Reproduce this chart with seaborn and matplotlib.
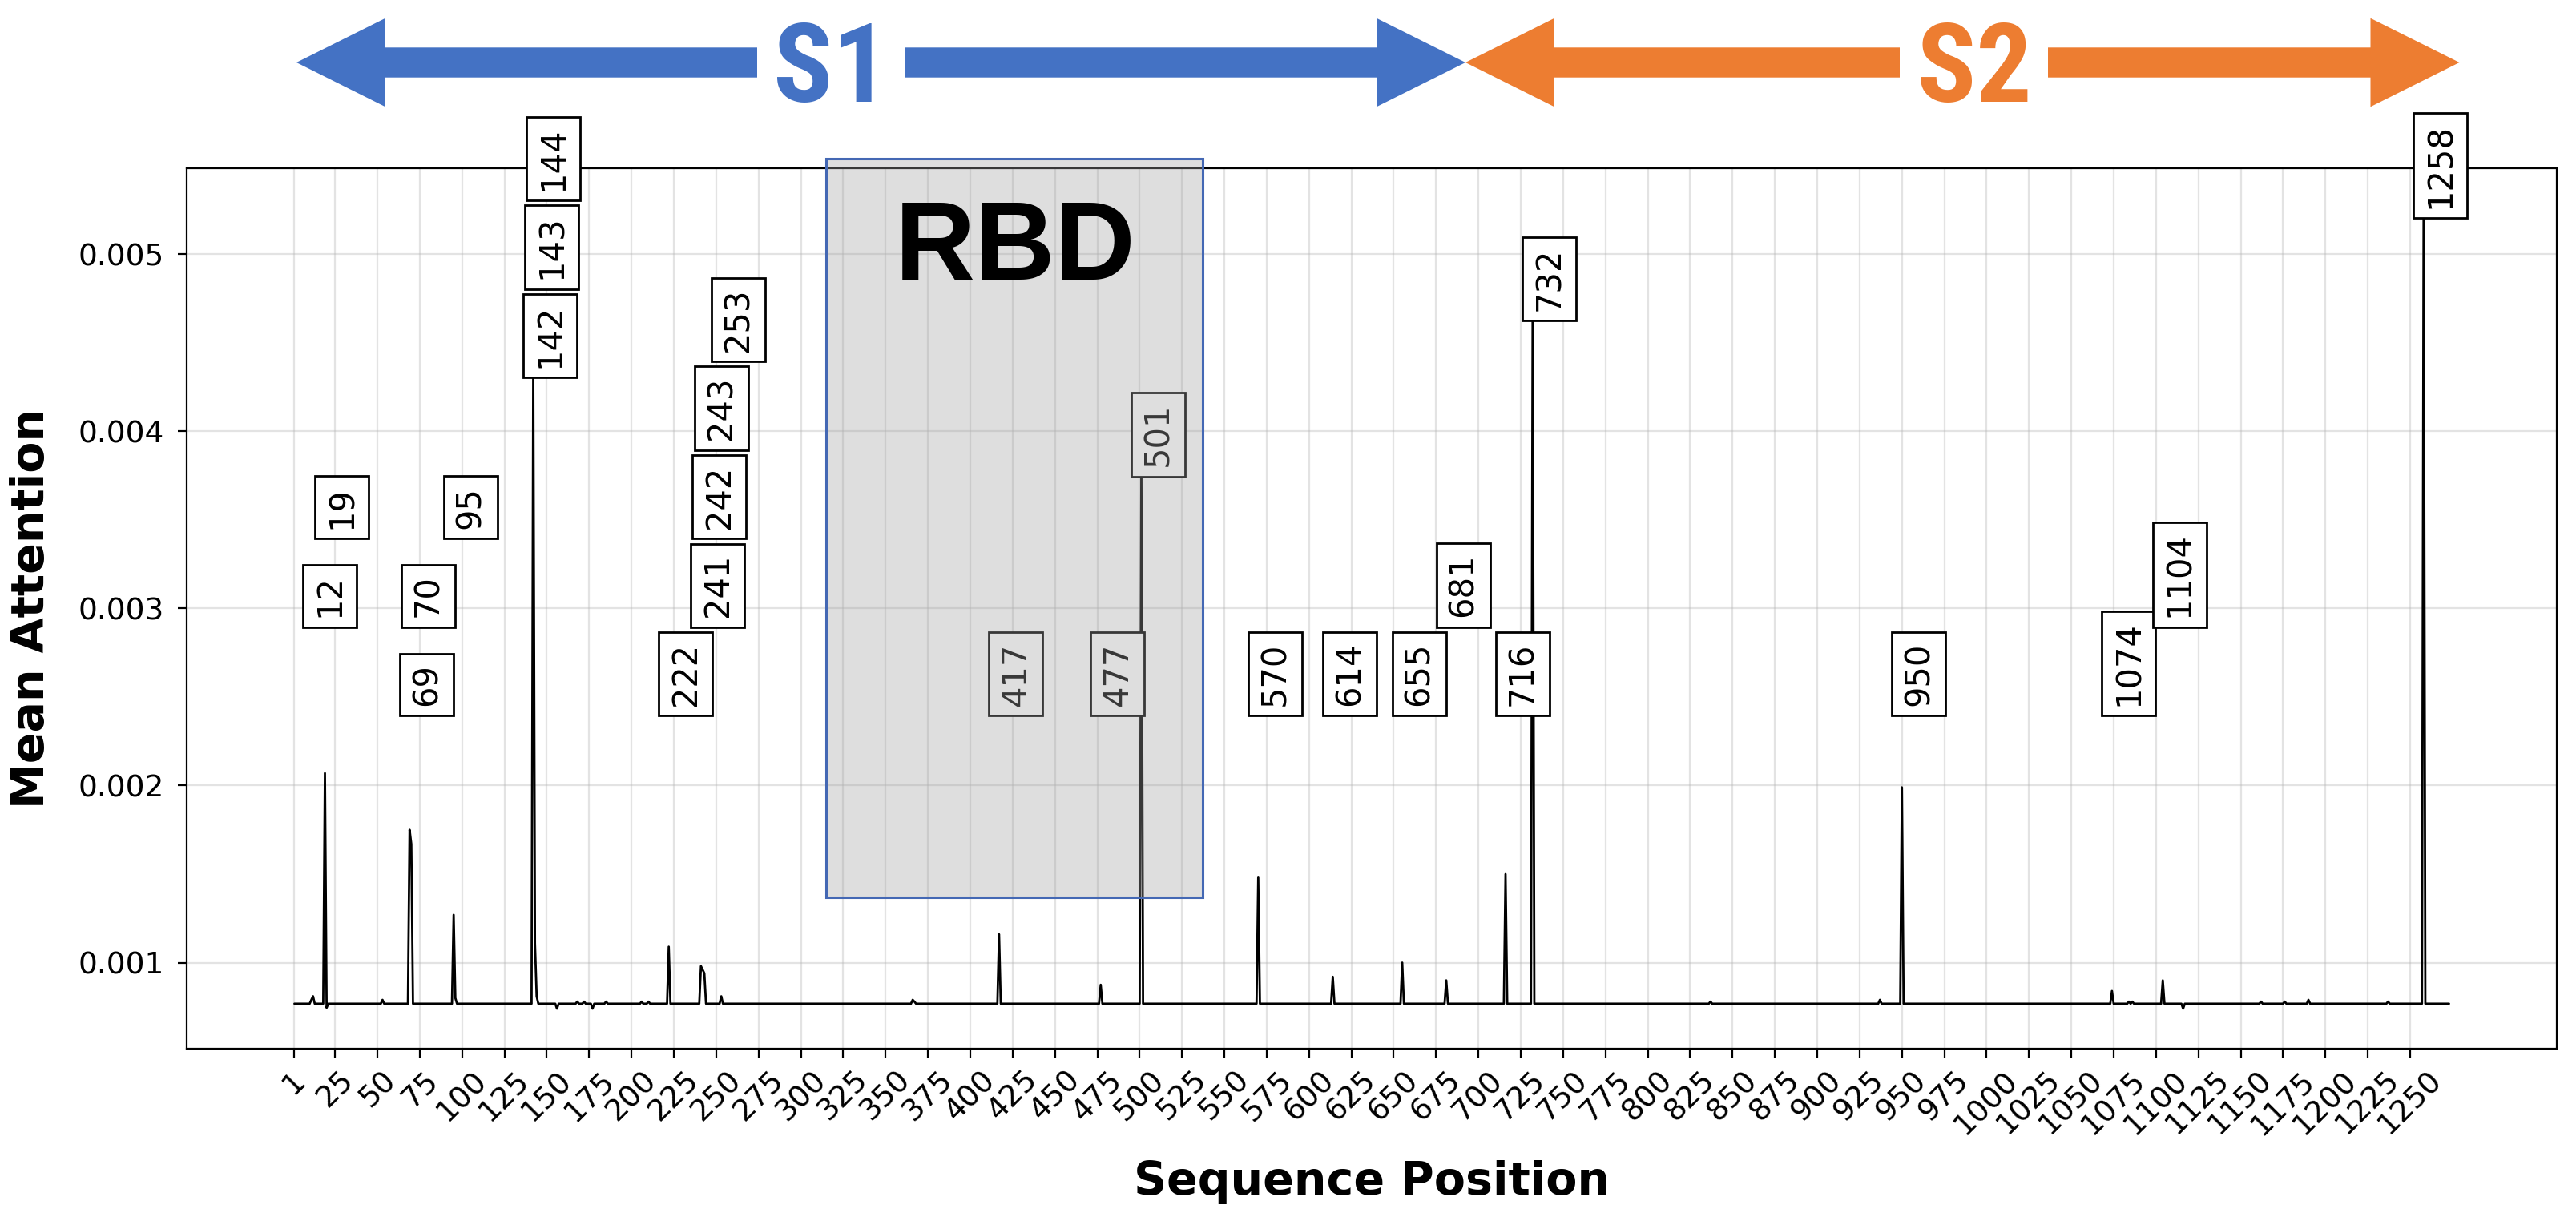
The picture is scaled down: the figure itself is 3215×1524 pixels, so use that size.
import numpy as np
import pandas as pd
import matplotlib
matplotlib.use("Agg")
import matplotlib.pyplot as plt
import seaborn as sns
from matplotlib.patches import Polygon, Rectangle
from matplotlib import font_manager

# ---------------- data ----------------
SEQ_LEN = 1273
BASELINE = 0.000768

# positions whose attention departs from the flat baseline
feature_pos = [11, 12, 19, 20, 53, 69, 70, 95, 96, 142, 143, 144, 156, 168, 172,
               177, 185, 206, 210, 222, 241, 242, 243, 253, 366, 367, 417, 477,
               501, 570, 614, 655, 681, 716, 732, 837, 937, 950, 1074, 1084,
               1086, 1104, 1116, 1162, 1176, 1190, 1237, 1258]
feature_val = [0.00079, 0.00081, 0.00207, 0.000745, 0.00079, 0.00175, 0.00167,
               0.00127, 0.00080, 0.00436, 0.00111, 0.00081, 0.00074, 0.00078,
               0.00078, 0.00074, 0.00078, 0.00078, 0.00078, 0.00109, 0.00098,
               0.00096, 0.00094, 0.00081, 0.00079, 0.00078, 0.00116, 0.000875,
               0.00380, 0.00148, 0.00092, 0.00100, 0.00090, 0.00150, 0.00468,
               0.00078, 0.00079, 0.00199, 0.00084, 0.00078, 0.00078, 0.00090,
               0.00074, 0.00078, 0.00078, 0.00079, 0.00078, 0.00526]

# labelled positions and the height of each label
label_pos = [12, 19, 69, 70, 95, 142, 143, 144, 222, 241, 242, 243, 253, 417,
             477, 501, 570, 614, 655, 681, 716, 732, 950, 1074, 1104, 1258]
label_y = [0.00295, 0.00345, 0.00245, 0.00295, 0.00345, 0.00436, 0.00486,
           0.00536, 0.00245, 0.00295, 0.00345, 0.00395, 0.00445, 0.00245,
           0.00245, 0.00380, 0.00245, 0.00245, 0.00245, 0.00295, 0.00245,
           0.00468, 0.00245, 0.00245, 0.00295, 0.00526]

xtick_values = [1] + list(range(25, 1251, 25))

rbd_start, rbd_end = 315, 537
rbd_low, rbd_high = 0.00137, 0.00554

# ---------------- build table ----------------
positions = np.arange(1, SEQ_LEN + 1)
series = pd.Series(BASELINE, index=positions)
series.loc[feature_pos] = feature_val
df = pd.DataFrame({"Sequence Position": positions, "Mean Attention": series.values})

# ---------------- figure ----------------
sns.set_style("ticks")
plt.rcParams.update({"text.color": "black", "axes.labelcolor": "black",
                     "xtick.color": "black", "ytick.color": "black"})
W, H, DPI = 3216, 1524, 200
fig = plt.figure(figsize=(W / DPI, H / DPI), dpi=DPI)
ax = fig.add_axes([233 / W, 1 - 1309 / H, (3191 - 233) / W, (1309 - 209.7) / H])

sns.lineplot(data=df, x="Sequence Position", y="Mean Attention", ax=ax,
             color="black", linewidth=1.0, estimator=None, zorder=3)

ax.set_xticks(xtick_values)
ax.set_xticklabels([str(v) for v in xtick_values], rotation=45, ha="center")
ax.tick_params(axis="both", labelsize=13.5, length=4, width=0.8,
               color="black", labelcolor="black")
ax.tick_params(axis="y", pad=6)
ax.grid(True, color="#b0b0b0", alpha=0.35, linewidth=0.8)
ax.set_axisbelow(True)
for s in ax.spines.values():
    s.set_visible(True)
    s.set_color("black")
    s.set_linewidth(0.8)

ax.set_xlabel("Sequence Position", fontsize=20.5, fontweight="bold",
              labelpad=9, color="black")
ax.set_ylabel("Mean Attention", fontsize=20.5, fontweight="bold",
              labelpad=11, color="black")

# labels
for p, yv in zip(label_pos, label_y):
    ax.text(p, yv, str(p), rotation=90, ha="left", va="bottom", fontsize=15,
            color="black", zorder=4, clip_on=False,
            bbox=dict(boxstyle="square,pad=0.3", fc="white", ec="black", lw=1.0))

# RBD overlay
ax.add_patch(Rectangle((rbd_start, rbd_low), rbd_end - rbd_start, rbd_high - rbd_low,
                       facecolor=(0.63, 0.63, 0.63, 0.35), edgecolor="#4468b4",
                       linewidth=1.1, zorder=5, clip_on=False))
ax.text((rbd_start + rbd_end) / 2 + 0.5, 0.00486, "RBD", ha="center", va="baseline",
        fontsize=50, fontweight="bold", family="Liberation Sans", color="black", zorder=6)

# S1 / S2 arrows (figure pixel geometry)
def arrow_poly(x0, x1, yc, hl, hw, sw):
    pts = [(x0, yc), (x0 + hl, yc - hw / 2), (x0 + hl, yc - sw / 2),
           (x1 - hl, yc - sw / 2), (x1 - hl, yc - hw / 2), (x1, yc),
           (x1 - hl, yc + hw / 2), (x1 - hl, yc + sw / 2),
           (x0 + hl, yc + sw / 2), (x0 + hl, yc + hw / 2)]
    return [(x / W, 1 - y / H) for x, y in pts]

blue, orange = "#4472C4", "#ED7D31"
fig.add_artist(Polygon(arrow_poly(370, 1829, 78, 111, 110.6, 37.4), closed=True,
                       facecolor=blue, edgecolor="none", transform=fig.transFigure, zorder=1))
fig.add_artist(Polygon(arrow_poly(1829, 3069.5, 78, 111, 110.6, 37.4), closed=True,
                       facecolor=orange, edgecolor="none", transform=fig.transFigure, zorder=1))

# pick a narrow bold face if one is installed
afont, astretch = "Liberation Sans", "normal"
entries = font_manager.fontManager.ttflist
names = {f.name for f in entries}
if "Liberation Sans Narrow" in names:
    afont = "Liberation Sans Narrow"
elif "Roboto Condensed" in names:
    afont = "Roboto Condensed"
elif any(f.name == "DejaVu Sans" and str(f.stretch) == "condensed" for f in entries):
    afont, astretch = "DejaVu Sans", "condensed"

for label, cx, col in (("S1", 1037.5, blue), ("S2", 2463.5, orange)):
    fig.text(cx / W, 1 - 126.7 / H, label, ha="center", va="baseline", fontsize=49.5,
             fontweight="bold", family=afont, fontstretch=astretch, color=col, zorder=3,
             bbox=dict(boxstyle="square,pad=0.15", fc="white", ec="none"))

fig.savefig("out.png", dpi=DPI, facecolor="white")
